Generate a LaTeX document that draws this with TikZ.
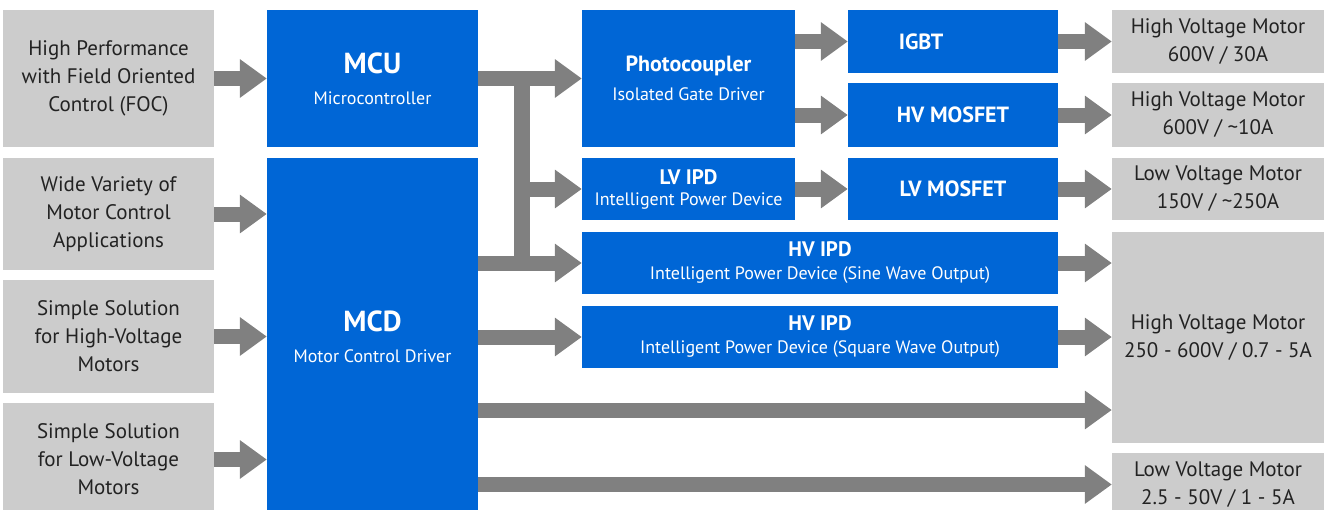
\documentclass[tikz,border=0pt]{standalone}
\usepackage{fontspec}
\setmainfont{PT Sans}
\usetikzlibrary{arrows.meta}

\definecolor{chipblue}{RGB}{0,102,214}
\definecolor{boxgrey}{RGB}{204,204,204}
\definecolor{arrowgrey}{RGB}{128,128,128}
\definecolor{textdark}{RGB}{34,34,34}

\begin{document}
\begin{tikzpicture}[x=1pt, y=1pt,
    appbox/.style={fill=boxgrey, inner sep=0pt, align=center, text=textdark,
        font=\fontsize{21}{28}\selectfont},
    chip/.style={fill=chipblue, inner sep=0pt, align=center, text=white,
        font=\fontsize{18}{20}\selectfont},
    fat/.style={draw=arrowgrey, line width=15pt, -{Triangle[width=37pt,length=27pt]}},
    bar/.style={draw=arrowgrey, line width=16pt, line cap=rect}]
    \useasboundingbox (0,0) rectangle (1324,-509);

    % Applications on the left
    \node[appbox, minimum width=211pt, minimum height=137pt] (app1) at (108.5,-78.5) {High Performance\\with Field Oriented\\Control (FOC)};
    \node[appbox, minimum width=211pt, minimum height=112pt] (app2) at (108.5,-214) {Wide Variety of\\Motor Control\\Applications};
    \node[appbox, minimum width=211pt, minimum height=113pt] (app3) at (108.5,-336.5) {Simple Solution\\for High-Voltage\\Motors};
    \node[appbox, minimum width=211pt, minimum height=113pt] (app4) at (108.5,-459.5) {Simple Solution\\for Low-Voltage\\Motors};

    % Controllers
    \node[chip, minimum width=211pt, minimum height=137pt] (mcu) at (372.5,-78.5) {{\fontsize{29}{29}\selectfont\bfseries MCU}\\[11pt]Microcontroller};
    \node[chip, minimum width=211pt, minimum height=358pt] (mcd) at (372.5,-337) {{\fontsize{29}{29}\selectfont\bfseries MCD}\\[11pt]Motor Control Driver};

    % Drivers
    \node[chip, minimum width=213pt, minimum height=137pt] (photo) at (688.5,-78.5) {{\fontsize{22}{22}\selectfont\bfseries Photocoupler}\\[9pt]Isolated Gate Driver};
    \node[chip, minimum width=213pt, minimum height=62pt] (lvipd) at (688.5,-189) {{\fontsize{21}{21}\selectfont\bfseries LV IPD}\\[1pt]Intelligent Power Device};
    \node[chip, minimum width=476pt, minimum height=62pt] (sine) at (820,-263) {{\fontsize{21}{21}\selectfont\bfseries HV IPD}\\[3pt]Intelligent Power Device (Sine Wave Output)};
    \node[chip, minimum width=476pt, minimum height=62pt] (square) at (820,-337) {{\fontsize{21}{21}\selectfont\bfseries HV IPD}\\[3pt]Intelligent Power Device (Square Wave Output)};

    % Power devices
    \node[chip, minimum width=210pt, minimum height=63pt, font=\fontsize{22}{22}\selectfont\bfseries] (igbt) at (953,-41.5) {IGBT\hspace{64pt}};
    \node[chip, minimum width=210pt, minimum height=64pt, font=\fontsize{22}{22}\selectfont\bfseries] (hvmos) at (953,-115) {HV MOSFET};
    \node[chip, minimum width=210pt, minimum height=62pt, font=\fontsize{22}{22}\selectfont\bfseries] (lvmos) at (953,-189) {LV MOSFET};

    % Motors on the right
    \node[appbox, minimum width=212pt, minimum height=63pt] (mot1) at (1218,-41.5) {High Voltage Motor\\600V / 30A};
    \node[appbox, minimum width=212pt, minimum height=64pt] (mot2) at (1218,-115) {High Voltage Motor\\600V / \textasciitilde10A};
    \node[appbox, minimum width=212pt, minimum height=62pt] (mot3) at (1218,-189) {Low Voltage Motor\\150V / \textasciitilde250A};
    \node[appbox, minimum width=212pt, minimum height=211pt] (mot4) at (1218,-337.5) {High Voltage Motor\\250 - 600V / 0.7 - 5A};
    \node[appbox, minimum width=212pt, minimum height=63pt] (mot5) at (1218,-484.5) {Low Voltage Motor\\2.5 - 50V / 1 - 5A};

    % Inputs
    \draw[fat] (app1.east) -- (mcu.west);
    \draw[fat] (app2.east) -- (app2.east -| mcd.west);
    \draw[fat] (app3.east) -- (app3.east -| mcd.west);
    \draw[fat] (app4.east) -- (app4.east -| mcd.west);

    % MCU branch
    \coordinate (split) at ([xshift=44pt]mcu.east);
    \draw[bar] (split) -- (split |- sine.west);
    \draw[fat] (mcu.east) -- (photo.west);
    \draw[fat] (split |- lvipd.west) -- (lvipd.west);
    \draw[fat] (mcd.east |- sine.west) -- (sine.west);
    \draw[fat] (mcd.east |- square.west) -- (square.west);

    % Drivers to power devices
    \draw[fat] (photo.east |- igbt.west) -- (igbt.west);
    \draw[fat] (photo.east |- hvmos.west) -- (hvmos.west);
    \draw[fat] (lvipd.east) -- (lvmos.west);

    % To motors
    \draw[fat] (igbt.east) -- (mot1.west);
    \draw[fat] (hvmos.east) -- (mot2.west);
    \draw[fat] (lvmos.east) -- (mot3.west);
    \draw[fat] (sine.east) -- (sine.east -| mot4.west);
    \draw[fat] (square.east) -- (square.east -| mot4.west);
    \draw[fat] ([yshift=-73pt]mcd.east) -- ([yshift=-73pt]mcd.east -| mot4.west);
    \draw[fat] (mot5.west -| mcd.east) -- (mot5.west);
\end{tikzpicture}
\end{document}
